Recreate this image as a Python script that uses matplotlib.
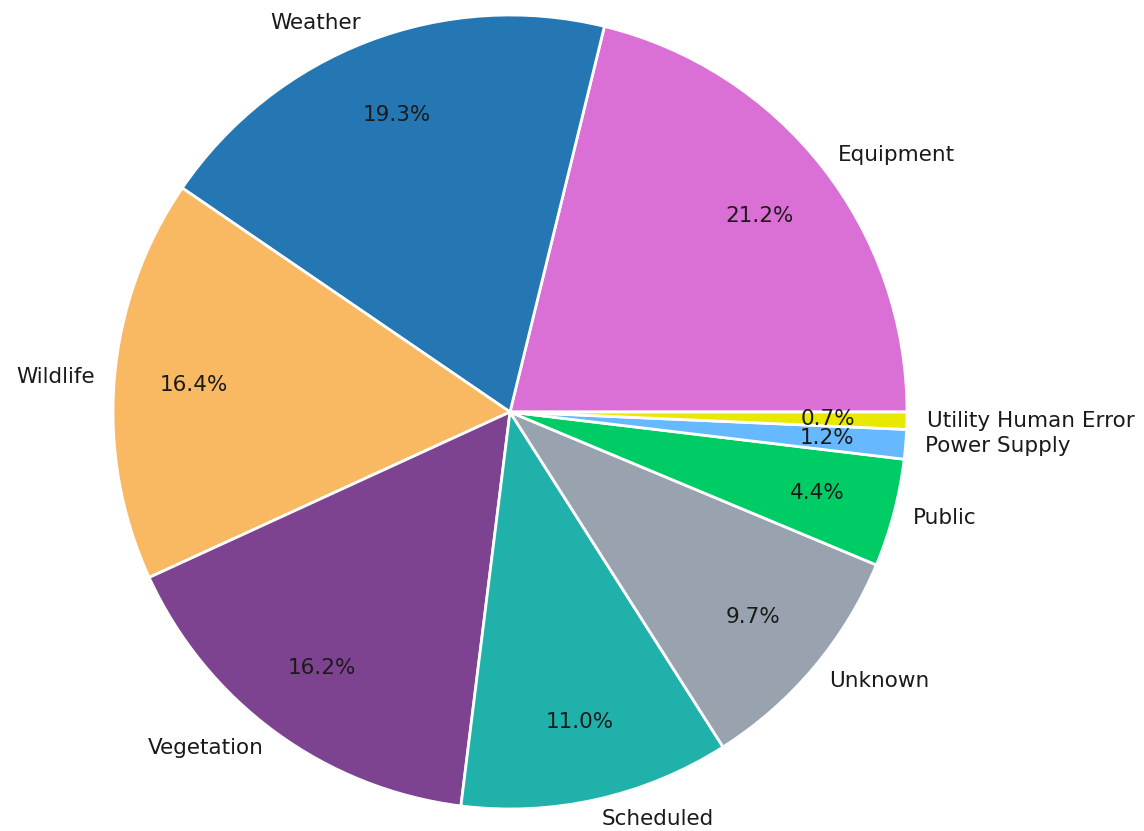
import matplotlib
matplotlib.use("Agg")
import matplotlib.pyplot as plt

# outage causes, counterclockwise from 3 o'clock
causes = ["Equipment", "Weather", "Wildlife", "Vegetation", "Scheduled",
          "Unknown", "Public", "Power Supply", "Utility Human Error"]
shares = [21.2, 19.3, 16.4, 16.2, 11.0, 9.7, 4.4, 1.2, 0.7]
colors = ["#DA70D6", "#2477B3", "#F9B963", "#7D4391", "#20B2AA",
          "#99A3B0", "#00CC66", "#66B8FF", "#E8E800"]

W, H = 1144, 831
CX, CY, R = 510, 412, 397  # pie centre and radius in pixels

fig = plt.figure(figsize=(W / 100, H / 100), dpi=100)
ax = fig.add_axes([0, 0, 1, 1])
ax.pie(shares, labels=causes, colors=colors, autopct="%1.1f%%",
       startangle=0, counterclock=True, labeldistance=1.05, pctdistance=0.8,
       wedgeprops=dict(edgecolor="white", linewidth=2),
       textprops=dict(fontsize=15.5, color="#1a1a1a"))
ax.set_xlim(-CX / R, (W - CX) / R)
ax.set_ylim(-(H - CY) / R, CY / R)
ax.set_aspect("auto")
ax.axis("off")

fig.savefig("out.png", dpi=100)
